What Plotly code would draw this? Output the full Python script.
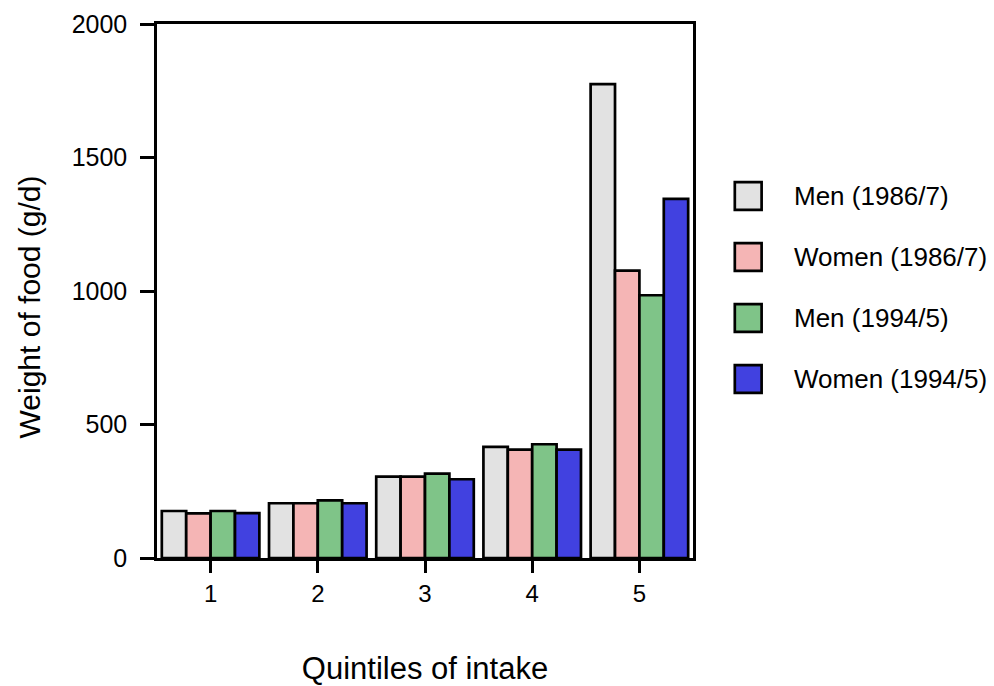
import plotly.graph_objects as go

quintiles = [1, 2, 3, 4, 5]
series_names = ["Men (1986/7)", "Women (1986/7)", "Men (1994/5)", "Women (1994/5)"]
men_1986 = [176, 205, 305, 416, 1775]
women_1986 = [167, 205, 305, 406, 1076]
men_1994 = [176, 216, 316, 426, 984]
women_1994 = [168, 205, 295, 406, 1345]
y_ticks = [0, 500, 1000, 1500, 2000]
colors = ["#e2e2e2", "#f5b5b5", "#7fc488", "#4141e0"]

font = "Liberation Sans, Arial, sans-serif"
fig = go.Figure()
for i, (name, vals) in enumerate(zip(series_names, [men_1986, women_1986, men_1994, women_1994])):
    fig.add_trace(go.Bar(
        x=quintiles, y=vals, name=name, showlegend=False,
        marker=dict(color=colors[i], line=dict(color="black", width=2.7)),
    ))

# legend drawn as swatches + labels (paper coordinates)
leg_x0, leg_x1, leg_tx = 1.078, 1.128, 1.185
leg_y_top, leg_dy, half = 0.678, 0.1143, 0.026
for i, name in enumerate(series_names):
    yc = leg_y_top - i * leg_dy
    fig.add_shape(type="rect", xref="paper", yref="paper",
                  x0=leg_x0, x1=leg_x1, y0=yc - half, y1=yc + half,
                  fillcolor=colors[i], line=dict(color="black", width=2.7))
    fig.add_annotation(xref="paper", yref="paper", x=leg_tx, y=yc,
                       xanchor="left", yanchor="middle", showarrow=False,
                       text=name, font=dict(size=26, family=font, color="black"))

# y-axis title (placed slightly below the axis centre, as in the reference)
fig.add_annotation(xref="paper", yref="paper", x=-0.238, y=0.47,
                   xanchor="center", yanchor="middle", showarrow=False,
                   textangle=-90, text="Weight of food (g/d)",
                   font=dict(size=30, family=font, color="black"))

fig.update_layout(
    width=994, height=686,
    margin=dict(l=157, r=301, t=24, b=128, autoexpand=False),
    paper_bgcolor="white", plot_bgcolor="white",
    barmode="group", bargap=0.09, bargroupgap=0,
    font=dict(family=font, size=25, color="black"),
    showlegend=False,
    xaxis=dict(range=[0.5, 5.5], tickvals=quintiles, ticks="outside", ticklen=12,
               tickwidth=2.5, tickcolor="black", showline=True, linecolor="black",
               linewidth=2.5, mirror=True, showgrid=False, zeroline=False,
               automargin=False, tickfont=dict(size=24), ticklabelstandoff=0,
               title=dict(text="Quintiles of intake", font=dict(size=31), standoff=56)),
    yaxis=dict(range=[0, 2000], tickvals=y_ticks, ticks="outside",
               ticklen=14, tickwidth=2.5, tickcolor="black", showline=True,
               linecolor="black", linewidth=2.5, mirror=True, showgrid=False,
               zeroline=False, automargin=False, tickfont=dict(size=25),
               ticklabelstandoff=8),
)
fig.write_html("out.html", config={"displayModeBar": False},
               post_script="document.body.style.margin='0px';")
